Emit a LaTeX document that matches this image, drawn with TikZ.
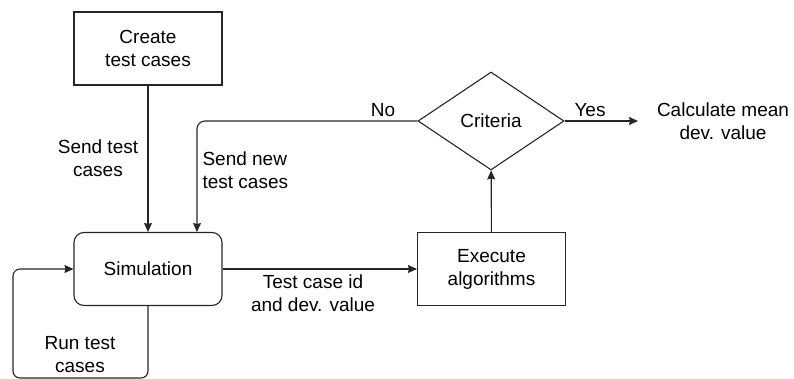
\documentclass[tikz,border=0pt]{standalone}
\usepackage{fontspec}
\setmainfont{Liberation Sans}
\usetikzlibrary{arrows.meta,shapes.geometric}
\begin{document}
\begin{tikzpicture}[x=1pt,y=-1pt,
  font=\fontsize{19}{23}\selectfont,
  line width=1.1pt,
  edge/.style={draw=black!85},
  box/.style={draw=black!85, minimum width=148pt, minimum height=73pt, align=center, inner sep=0pt},
  rbox/.style={box, rounded corners=10pt},
  decision/.style={draw=black!85, diamond, minimum width=146pt, minimum height=98pt, inner sep=0pt},
  lbl/.style={align=center, inner sep=0pt},
  arr/.style={edge, -{Stealth[length=9pt,width=8pt,inset=1pt]}}]
\useasboundingbox (0,0) rectangle (794,379);

% process steps
\node[box]  (create) at (148,48.5) {Create\\test cases};
\node[rbox] (sim)    at (148,269)  {Simulation};
\node[box]  (exec)   at (491.5,269) {Execute\\algorithms};
\node[decision] (crit) at (491,121) {Criteria};
\node[lbl]  (calc)   at (723,121)  {Calculate mean\\dev. value};

% edge labels
\node[lbl] (sendlbl) at (98,158.5) {Send test\\cases};
\node[lbl] (nolbl)   at (383,110)  {No};
\node[lbl, anchor=west, align=left] (newlbl) at (202,170.5) {Send new\\test cases};
\node[lbl] (idlbl)   at (313,293.5) {Test case id\\and dev. value};
\node[lbl] (runlbl)  at (80,354.5) {Run test\\cases};
\node[lbl] (yeslbl)  at (590,110)  {Yes};

% free ends and bends
\coordinate (yesend)   at (638,121);
\coordinate (newin)    at (197,232);
\coordinate (loopleft) at (13,378);

% connectors
\draw[arr] (create) -- (sim);
\draw[arr] (sim) -- (exec);
\draw[arr] (exec) -- (crit);
\draw[arr] (crit.east) -- (yesend);
\draw[arr, rounded corners=8pt] (crit.west) -| (newin);
\draw[arr, rounded corners=7pt] (sim.south) |- (loopleft) |- (sim.west);
\end{tikzpicture}
\end{document}
